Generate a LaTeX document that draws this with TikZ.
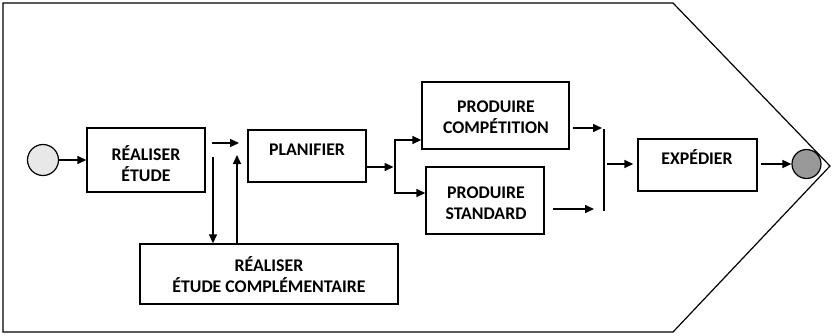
\documentclass[tikz,border=0pt]{standalone}
\usepackage{fontspec}
\setmainfont{Carlito}
\usetikzlibrary{arrows.meta}
\begin{document}
\begin{tikzpicture}[x=1pt,y=-1pt,
  box/.style={draw=black,line width=1.4pt,minimum width=#1,inner sep=0pt},
  lbl/.style={font=\fontsize{17.8}{21}\selectfont\bfseries,inner sep=0pt,anchor=base},
  arr/.style={line width=1.5pt,-{Triangle[length=9pt,width=8pt]}},
  ln/.style={line width=1.5pt}]
\useasboundingbox (0,0) rectangle (832,335);
% outer pentagon
\draw[line width=1.2pt] (3,3) -- (673,3) -- (830,166) -- (673,332) -- (3,332) -- cycle;
% start and end
\node[circle,draw,line width=1.2pt,fill=black!9,minimum size=31pt,inner sep=0pt] (start) at (43,160) {};
\node[circle,draw,line width=1.2pt,fill=black!40,minimum size=29pt,inner sep=0pt] (stop) at (806.5,164) {};
% boxes
\node[box=118pt,minimum height=64pt] (etude) at (146,160) {};
\node[box=118pt,minimum height=52pt] (plan) at (307,156) {};
\node[box=147pt,minimum height=67pt] (comp) at (495.5,115.5) {};
\node[box=118pt,minimum height=67pt] (std) at (485,200.5) {};
\node[box=258pt,minimum height=60pt] (compl) at (269,274) {};
\node[box=119pt,minimum height=52pt] (exp) at (697.5,165) {};
% labels
\node[lbl] (etude-t1) at (146,160) {RÉALISER};
\node[lbl] (etude-t2) at (146,181) {ÉTUDE};
\node[lbl] (plan-t) at (307,155) {PLANIFIER};
\node[lbl] (comp-t1) at (496,112) {PRODUIRE};
\node[lbl] (comp-t2) at (496,133) {COMPÉTITION};
\node[lbl] (std-t1) at (486,198) {PRODUIRE};
\node[lbl] (std-t2) at (486,219) {STANDARD};
\node[lbl] (compl-t1) at (269,271) {RÉALISER};
\node[lbl] (compl-t2) at (269,292) {ÉTUDE COMPLÉMENTAIRE};
\node[lbl] (exp-t) at (697,164) {EXPÉDIER};
% coordinates
\coordinate (e1) at (212,143);
\coordinate (e2) at (239,143);
\coordinate (d1) at (213,157);
\coordinate (u1) at (237,155);
\coordinate (br) at (395,167);
\coordinate (brT) at (395,140);
\coordinate (brB) at (395,193);
\coordinate (barT) at (604,129);
\coordinate (barB) at (604,211);
\coordinate (c1) at (573,128);
\coordinate (c2) at (602,128);
\coordinate (s1) at (553,209);
\coordinate (s2) at (594,209);
\coordinate (b1) at (607,164);
% connectors
\draw[arr] (start.east) -- (start.east -| etude.west);
\draw[arr] (e1) -- (e2);
\draw[arr] (d1) -- (d1 |- compl.north);
\draw[arr] (u1 |- compl.north) -- (u1);
\draw[arr] (plan.east |- br) -- ([xshift=-1.5pt]br);
\draw[ln] (brT) -- (brB);
\draw[arr] ([xshift=-0.75pt]brT) -- (brT -| comp.west);
\draw[arr] ([xshift=-0.75pt]brB) -- (brB -| std.west);
\draw[arr] (c1) -- (c2);
\draw[arr] (s1) -- (s2);
\draw[ln] (barT) -- (barB);
\draw[arr] (b1) -- ([xshift=-4pt]b1 -| exp.west);
\draw[arr] ([xshift=3pt]exp.east |- stop.west) -- (stop.west);
\end{tikzpicture}
\end{document}
